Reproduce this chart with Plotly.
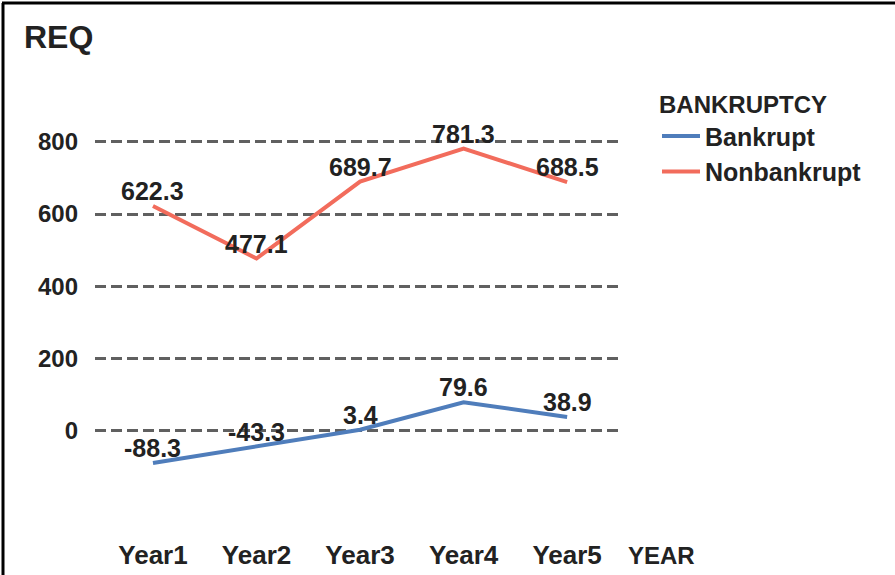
import plotly.graph_objects as go

years = ["Year1", "Year2", "Year3", "Year4", "Year5"]
bankrupt = [-88.3, -43.3, 3.4, 79.6, 38.9]
nonbankrupt = [622.3, 477.1, 689.7, 781.3, 688.5]
y_ticks = [0, 200, 400, 600, 800]

W, H = 895, 575
L, R, T, B = 95, W - 622, 100, 40
PW, PH = W - L - R, H - T - B

FONT = "Liberation Sans"
TXT = "#222222"
BLUE = "#4F7DBB"
RED = "#F26C5C"

fig = go.Figure()
for name, vals, col in [("Bankrupt", bankrupt, BLUE), ("Nonbankrupt", nonbankrupt, RED)]:
    fig.add_trace(go.Scatter(x=years, y=vals, name=name, mode="lines",
                             line=dict(color=col, width=4)))
    for xv, yv in zip(years, vals):
        fig.add_annotation(x=xv, y=yv, text=f"{yv:.1f}", showarrow=False,
                           yshift=15, yanchor="middle",
                           font=dict(family=FONT, size=25, color=TXT, weight="bold"))

def px_x(p):
    return (p - L) / PW

def px_y(p):
    return (H - B - p) / PH

# frame lines (left and top)
fig.add_shape(type="line", xref="paper", yref="paper",
              x0=px_x(3), x1=px_x(3), y0=px_y(3), y1=px_y(H + 5),
              line=dict(color="black", width=3))
fig.add_shape(type="line", xref="paper", yref="paper",
              x0=px_x(2), x1=px_x(W + 5), y0=px_y(3), y1=px_y(3),
              line=dict(color="black", width=3))

fig.add_annotation(xref="paper", yref="paper", x=px_x(626), y=px_y(555),
                   xanchor="left", yanchor="middle", showarrow=False,
                   text="YEAR",
                   font=dict(family=FONT, size=24, color=TXT, weight="bold"))

fig.update_layout(
    width=W, height=H,
    margin=dict(l=L, r=R, t=T, b=B, autoexpand=False),
    paper_bgcolor="white", plot_bgcolor="white",
    title=dict(text="REQ", x=24 / W, xanchor="left", xref="container",
               y=1 - 37 / H, yanchor="middle", yref="container",
               font=dict(family=FONT, size=32, color=TXT, weight="bold")),
    legend=dict(x=px_x(657), xanchor="left", y=px_y(82), yanchor="top",
                itemwidth=38,
                title=dict(text="BANKRUPTCY",
                           font=dict(family=FONT, size=24, color=TXT, weight="bold")),
                font=dict(family=FONT, size=25, color=TXT, weight="bold"),
                bgcolor="rgba(0,0,0,0)", tracegroupgap=0),
    showlegend=True,
)
fig.update_xaxes(type="category", range=[-0.56, 4.53], showgrid=False, zeroline=False,
                 showline=False, ticks="", ticklabelstandoff=2, automargin=False,
                 tickfont=dict(family=FONT, size=26, color=TXT, weight="bold"))
fig.update_yaxes(range=[-287.7, 915.6], tickvals=y_ticks, showgrid=True,
                 gridcolor="#606060", gridwidth=3, griddash="11px,5px",
                 zeroline=False, showline=False, ticks="", ticklabelstandoff=16,
                 automargin=False,
                 tickfont=dict(family=FONT, size=24, color=TXT, weight="bold"))

fig.write_html("out.html", config={"displayModeBar": False},
               post_script="document.body.style.margin='0';")
